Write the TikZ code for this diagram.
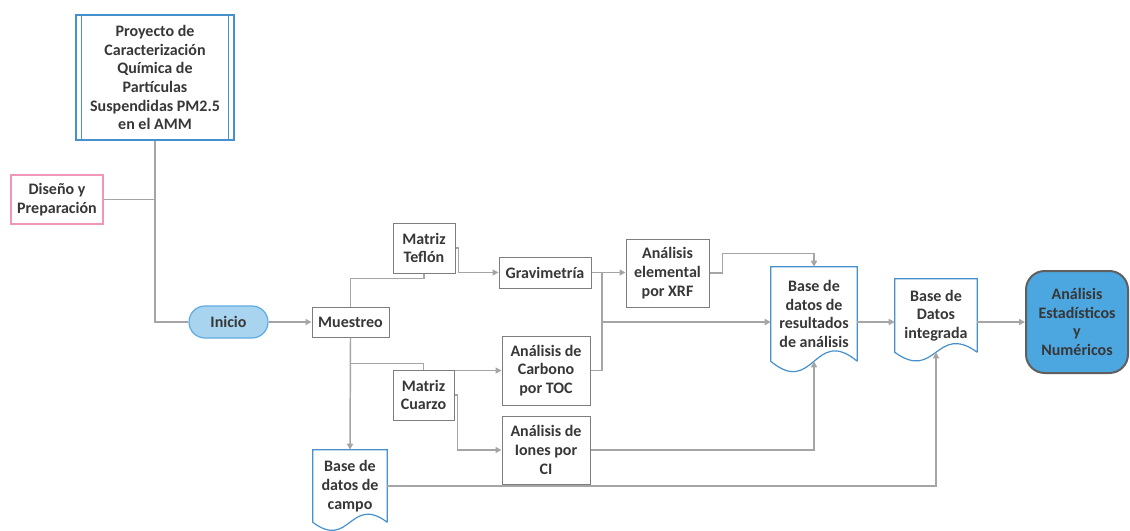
\documentclass[tikz,border=0pt]{standalone}
\usepackage{fontspec}
\setmainfont{Carlito}
\usetikzlibrary{arrows.meta,calc}
\definecolor{conn}{RGB}{165,165,165}
\definecolor{boxb}{RGB}{125,125,125}
\definecolor{blueb}{RGB}{70,145,205}
\definecolor{pinkb}{RGB}{240,150,185}
\definecolor{inifill}{RGB}{168,212,240}
\definecolor{inib}{RGB}{95,172,226}
\definecolor{anafill}{RGB}{76,166,224}
\definecolor{anab}{RGB}{95,95,95}
\definecolor{txt}{RGB}{55,55,55}
\begin{document}
\begin{tikzpicture}[x=0.75pt,y=-0.75pt,
  every node/.style={font=\fontsize{12}{14}\selectfont\bfseries, text=txt, align=center, inner sep=0pt},
  sz/.style 2 args={minimum width=#1*0.75pt, minimum height=#2*0.75pt},
  gbox/.style={draw=boxb, line width=0.75pt, fill=white},
  conline/.style={draw=conn, line width=1.1pt},
  arr/.style={conline, -{Triangle[length=4.5pt,width=4.5pt]}},
  docline/.style={draw=blueb, line width=0.9pt}]
\fill[white] (0,0) rectangle (1130,531);
\useasboundingbox (0,0) rectangle (1130,531);

% nodes
\node[sz={158}{125}, draw=blueb, line width=0.9pt, fill=white] (proj) at (155,77.5)
  {Proyecto de\\Caracterización\\Química de\\Partículas\\Suspendidas PM2.5\\en el AMM};
\draw[blueb, line width=0.9pt] ($(proj.north west)+(6,0)$) -- ($(proj.south west)+(6,0)$);
\draw[blueb, line width=0.9pt] ($(proj.north east)+(-6,0)$) -- ($(proj.south east)+(-6,0)$);
\node[sz={92}{49}, draw=pinkb, line width=0.9pt, fill=white] (dis) at (57,199.5) {Diseño y\\Preparación};
\node[sz={79}{32}, draw=inib, fill=inifill, line width=0.9pt, rounded corners=12pt] (ini) at (228.5,322) {Inicio};
\node[gbox, sz={77}{30}] (mue) at (350.5,322) {Muestreo};
\node[gbox, sz={62}{50}] (tef) at (424,248) {Matriz\\Teflón};
\node[gbox, sz={61}{50}] (cua) at (423.5,395) {Matriz\\Cuarzo};
\node[gbox, sz={92}{31}] (grav) at (545,272.5) {Gravimetría};
\node[gbox, sz={83}{68}] (xrf) at (667.5,273) {Análisis\\elemental\\por XRF};
\node[gbox, sz={88}{69}] (toc) at (546,370.5) {Análisis de\\Carbono\\por TOC};
\node[gbox, sz={88}{68}] (ion) at (546,450) {Análisis de\\Iones por\\CI};
\node[sz={86}{94}] (bdr) at (814,314) {Base de\\datos de\\resultados\\de análisis};
\node[sz={82}{73}] (bdi) at (936,315.5) {Base de\\Datos\\integrada};
\node[sz={74}{72}] (bdc) at (350,486) {Base de\\datos de\\campo};
\node[sz={102}{102}, draw=anab, fill=anafill, line width=1.5pt, rounded corners=14pt] (ana) at (1077,322)
  {Análisis\\Estadísticos\\y\\Numéricos};

% document outlines
\draw[docline] (bdr.south east) -- (bdr.north east) -- (bdr.north west) -- (bdr.south west)
  .. controls ($(bdr.south)+(0,36)$) and ($(bdr.south)+(0,-36)$) .. (bdr.south east);
\draw[docline] (bdi.south east) -- (bdi.north east) -- (bdi.north west) -- (bdi.south west)
  .. controls ($(bdi.south)+(0,30)$) and ($(bdi.south)+(0,-30)$) .. (bdi.south east);
\draw[docline] (bdc.south east) -- (bdc.north east) -- (bdc.north west) -- (bdc.south west)
  .. controls ($(bdc.south)+(0,28)$) and ($(bdc.south)+(0,-28)$) .. (bdc.south east);

\coordinate (j) at (602,322);

% connectors
\draw[conline] (proj.south) |- (ini.west);
\draw[conline] (dis.east) -- (dis.east -| proj.south);
\draw[arr] (ini.east) -- (ini.east -| mue.west);
\draw[conline] (mue.north) -- ($(mue.north)+(0,-28)$) -| (tef.south);
\draw[conline] (mue.south) -- ($(mue.south)+(0,26)$) -| (cua.north);
\draw[arr] (mue.south) -- (bdc.north);
\draw[arr] (tef.east) -- ++(3,0) |- (grav.west);
\draw[arr] (grav.east) -- (grav.east -| xrf.west);
\draw[conline] (grav.east) -| (j);
\draw[conline] (toc.east) -| (j);
\draw[arr] (j) -- (j -| bdr.west);
\draw[arr] (xrf.east) -- ++(13,0) |- ($(bdr.north)+(0,-13)$) -- (bdr.north);
\draw[arr] (cua.east |- toc.west) -- (toc.west);
\draw[arr] (cua.east) -- ++(3,0) |- (ion.west);
\draw[arr] (ion.east) -| (bdr.south);
\draw[arr] (bdc.east) -| (bdi.south);
\draw[arr] (j -| bdr.east) -- (j -| bdi.west);
\draw[arr] (j -| bdi.east) -- (j -| ana.west);
\end{tikzpicture}
\end{document}
